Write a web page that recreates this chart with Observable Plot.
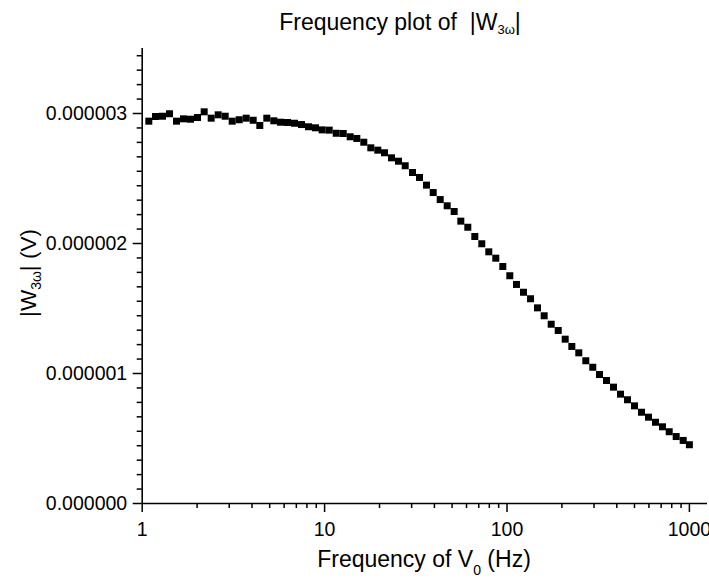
<!DOCTYPE html>
<html>
<head>
<meta charset="utf-8">
<script src="https://cdn.jsdelivr.net/npm/d3@7"></script>
<script src="https://cdn.jsdelivr.net/npm/@observablehq/plot@0.6"></script>
<style>
  html, body { margin: 0; padding: 0; background: #fff; overflow: hidden; width: 709px; height: 579px; }
  svg { display: block; }
</style>
</head>
<body>
<div id="chart"></div>
<script>
// Frequency of V0 (Hz)
const freqHz = [
  1.087, 1.183, 1.292, 1.411, 1.542, 1.684, 1.840, 2.010, 2.187, 2.389,
  2.610, 2.851, 3.114, 3.402, 3.717, 4.060, 4.413, 4.821, 5.266, 5.731,
  6.261, 6.839, 7.471, 8.159, 8.915, 9.701, 10.60, 11.58, 12.65, 13.81,
  15.02, 16.40, 17.92, 19.57, 21.30, 23.27, 25.42, 27.66, 30.33, 33.14,
  36.21, 39.39, 43.03, 47.00, 51.33, 55.82, 60.97, 66.60, 72.74, 79.47,
  86.81, 94.84, 103.6, 112.7, 123.2, 134.6, 147.0, 159.9, 174.7, 190.9,
  208.5, 226.7, 247.5, 270.4, 295.3, 321.5, 351.2, 383.7, 419.1, 457.7,
  500.0, 546.2, 596.8, 651.9, 712.1, 775.0, 846.4, 924.7, 1000
];
// |W3ω| (V)
const w3omegaV = [
  2.941e-6, 2.977e-6, 2.979e-6, 2.998e-6, 2.941e-6, 2.959e-6, 2.956e-6, 2.969e-6, 3.013e-6, 2.964e-6,
  2.990e-6, 2.979e-6, 2.941e-6, 2.952e-6, 2.964e-6, 2.948e-6, 2.908e-6, 2.964e-6, 2.944e-6, 2.933e-6,
  2.931e-6, 2.925e-6, 2.915e-6, 2.898e-6, 2.890e-6, 2.874e-6, 2.872e-6, 2.848e-6, 2.846e-6, 2.821e-6,
  2.808e-6, 2.779e-6, 2.736e-6, 2.718e-6, 2.698e-6, 2.659e-6, 2.633e-6, 2.598e-6, 2.546e-6, 2.508e-6,
  2.449e-6, 2.392e-6, 2.338e-6, 2.290e-6, 2.246e-6, 2.172e-6, 2.125e-6, 2.054e-6, 1.998e-6, 1.936e-6,
  1.887e-6, 1.823e-6, 1.752e-6, 1.685e-6, 1.625e-6, 1.575e-6, 1.505e-6, 1.444e-6, 1.379e-6, 1.331e-6,
  1.264e-6, 1.208e-6, 1.159e-6, 1.098e-6, 1.048e-6, 0.992e-6, 0.946e-6, 0.895e-6, 0.841e-6, 0.798e-6,
  0.751e-6, 0.702e-6, 0.664e-6, 0.625e-6, 0.590e-6, 0.552e-6, 0.515e-6, 0.485e-6, 0.452e-6
];

// Axis settings / tick labels
const xDomain = [1, 1256.7];
const yDomain = [0, 3.5e-6];
const xMajorTicks = [1, 10, 100, 1000];
const xTickLabels = ["1", "10", "100", "1000"];
const yMajorTicks = [0, 1e-6, 2e-6, 3e-6];
const yTickLabels = ["0.000000", "0.000001", "0.000002", "0.000003"];
const titleParts = ["Frequency plot of  |W", "3\u03c9", "|"];
const xLabelParts = ["Frequency of V", "0", " (Hz)"];
const yLabelParts = ["|W", "3\u03c9", "| (V)"];

// minor ticks
const xMinorTicks = [];
for (const d of [1, 10, 100, 1000]) for (let k = 2; k <= 9; k++) if (d * k <= xDomain[1]) xMinorTicks.push(d * k);
const yMinorTicks = d3.range(0, 32).map(k => k * 1e-6 / 9).filter(v => v <= yDomain[1] + 1e-12 && Math.abs(v * 1e6 - Math.round(v * 1e6)) > 1e-6);

const data = freqHz.map((f, i) => ({ f, w: w3omegaV[i] }));
const font = "'Liberation Sans', Arial, Helvetica, sans-serif";

const chart = Plot.plot({
  width: 709,
  height: 579,
  marginLeft: 141.7,
  marginRight: 2,
  marginTop: 48,
  marginBottom: 76,
  style: { fontFamily: font, fontSize: "19.5px", color: "black", background: "white" },
  x: { type: "log", domain: xDomain },
  y: { domain: yDomain },
  marks: [
    Plot.axisX(xMinorTicks, { tickSize: 5, tickFormat: () => "", label: null, strokeWidth: 1.5 }),
    Plot.axisX(xMajorTicks, { tickSize: 9, tickPadding: 10, tickFormat: d => xTickLabels[xMajorTicks.indexOf(d)], label: null, strokeWidth: 1.5, fontSize: 19.5 }),
    Plot.axisY(yMinorTicks, { tickSize: 5, tickFormat: () => "", label: null, strokeWidth: 1.5 }),
    Plot.axisY(yMajorTicks, { tickSize: 9, tickPadding: 6, tickFormat: d => yTickLabels[yMajorTicks.indexOf(d)], label: null, strokeWidth: 1.5, fontSize: 19.5 }),
    Plot.ruleX([xDomain[0]], { stroke: "black", strokeWidth: 1.6 }),
    Plot.ruleY([0], { stroke: "black", strokeWidth: 1.6 }),
    Plot.dot(data, { x: "f", y: "w", symbol: "square", r: 3.95, fill: "black", stroke: null })
  ]
});

document.getElementById("chart").appendChild(chart);

const svg = d3.select(chart);
function addLabel(parts, x, y, size, subSize, subShift, rotate) {
  const t = svg.append("text")
    .attr("text-anchor", "middle")
    .attr("fill", "black")
    .style("font-family", font)
    .style("font-size", size + "px")
    .style("white-space", "pre")
    .attr("transform", `translate(${x},${y})` + (rotate ? " rotate(-90)" : ""));
  t.append("tspan").text(parts[0]);
  t.append("tspan").attr("dy", subShift).style("font-size", subSize + "px").text(parts[1]);
  t.append("tspan").attr("dy", -subShift).text(parts[2]);
  return t;
}
addLabel(titleParts, 400, 30, 23, 13, 4, false);
addLabel(xLabelParts, 424, 567, 23, 14, 8, false);
addLabel(yLabelParts, 36, 273, 22.5, 14, 5, true);
</script>
</body>
</html>
